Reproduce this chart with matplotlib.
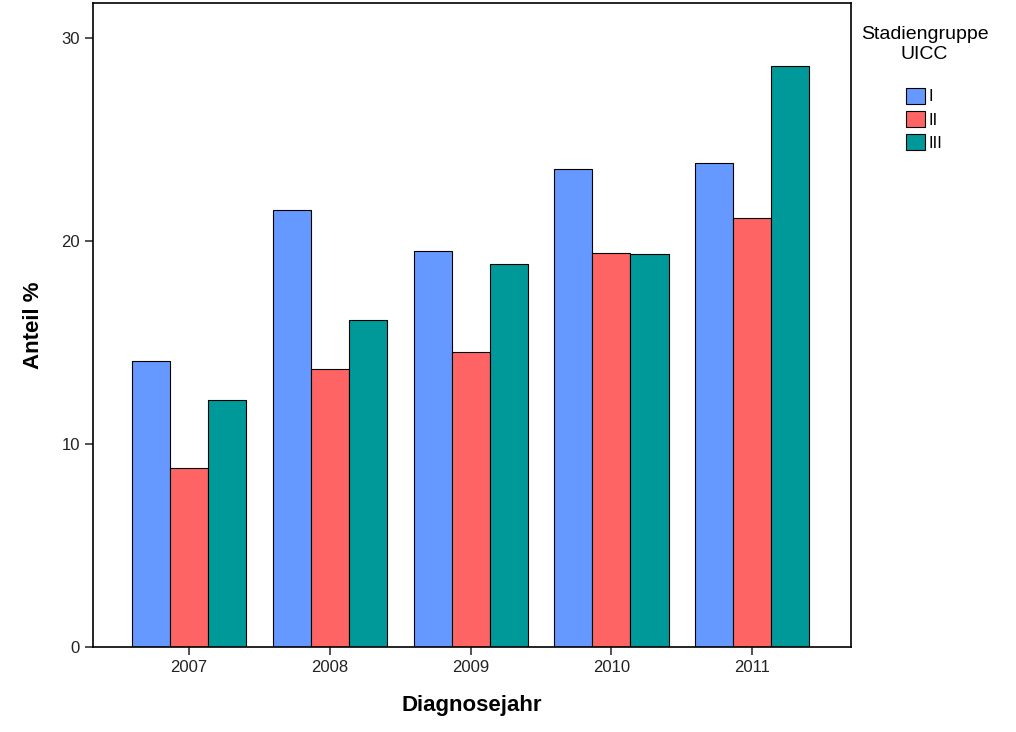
import numpy as np
import matplotlib
matplotlib.use('Agg')
import matplotlib.pyplot as plt

plt.rcParams['font.family'] = ['Liberation Sans', 'DejaVu Sans']

# ============================== 数据 ==============================
years = ['2007', '2008', '2009', '2010', '2011']
stages = ['I', 'II', 'III']
stage_i = [14.1, 21.5, 19.5, 23.55, 23.8]
stage_ii = [8.8, 13.7, 14.5, 19.4, 21.1]
stage_iii = [12.15, 16.1, 18.85, 19.35, 28.6]
colors = ['#6699ff', '#ff6464', '#009999']

# ============================== 绘图 ==============================
fig = plt.figure(figsize=(10.16, 7.32), dpi=100)
ax = fig.add_axes([0.0915, 0.1161, 0.7461, 0.8798])

x = np.arange(len(years))
w = 0.27
for i, (vals, lab) in enumerate(zip([stage_i, stage_ii, stage_iii], stages)):
    ax.bar(x + (i - 1) * w, vals, w, color=colors[i], edgecolor='black',
           linewidth=0.8, label=lab)

ax.set_xlim(-0.68, 4.7)
ax.set_ylim(0, 31.7)
ax.set_yticks([0, 10, 20, 30])
ax.set_xticks(x)
ax.set_xticklabels(years)
ax.tick_params(axis='both', labelsize=12, labelcolor='#222222', color='#333333',
               length=6, width=1.2)
for s in ax.spines.values():
    s.set_linewidth(1.2)

ax.set_xlabel('Diagnosejahr', fontsize=16, fontweight='bold', labelpad=14)
ax.set_ylabel('Anteil %', fontsize=16, fontweight='bold', labelpad=12)

leg = fig.legend(loc='upper center', bbox_to_anchor=(0.91, 0.985), frameon=False,
                 title='Stadiengruppe\nUICC', title_fontsize=14, fontsize=12,
                 handlelength=1.1, handleheight=1.1, handletextpad=0.25,
                 labelspacing=0.4)
leg.get_title().set_multialignment('center')
leg._legend_box.sep = 18

fig.savefig('out.png', dpi=100)
plt.close(fig)
